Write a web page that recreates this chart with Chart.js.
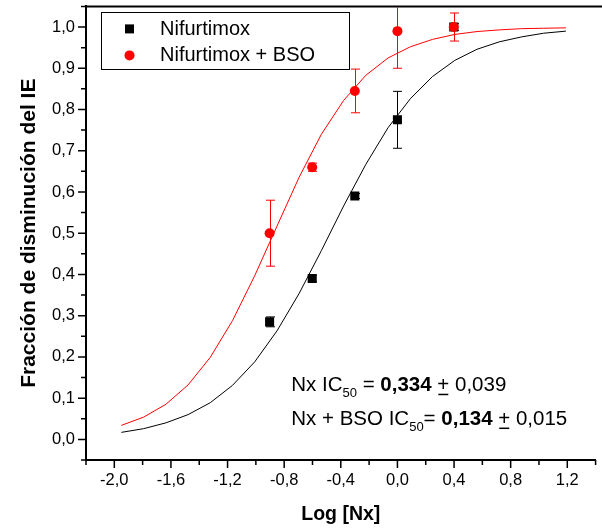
<!DOCTYPE html>
<html>
<head>
<meta charset="utf-8">
<script src="https://cdn.jsdelivr.net/npm/chart.js@4.4.1/dist/chart.umd.min.js"></script>
<style>
  html, body { margin: 0; padding: 0; background: #fff; }
  #wrap { width: 602px; height: 531px; }
</style>
</head>
<body>
<div id="wrap"><canvas id="c" width="602" height="531"></canvas></div>
<script>
// ---- data ----
const logConc = [-0.903, -0.602, -0.301, 0.0, 0.398];
const nifurtimox = [0.285, 0.39, 0.59, 0.775, 1.0];
const nifurtimoxErr = [0.012, 0.008, 0.006, 0.069, 0.008];
const nifurtimoxBSO = [0.50, 0.66, 0.845, 0.99, 1.0];
const nifurtimoxBSOErr = [0.08, 0.01, 0.053, 0.09, 0.034];

// fitted curves
const fitX = [-1.950, -1.793, -1.636, -1.479, -1.322, -1.165, -1.008, -0.851, -0.694, -0.537, -0.380,
              -0.223, -0.066, 0.091, 0.248, 0.405, 0.562, 0.719, 0.876, 1.033, 1.190];
const fitNifurtimox = [0.017, 0.026, 0.040, 0.060, 0.089, 0.131, 0.188, 0.263, 0.354, 0.458, 0.566,
                       0.667, 0.756, 0.826, 0.880, 0.919, 0.946, 0.964, 0.976, 0.985, 0.990];
const fitNifurtimoxBSO = [0.034, 0.054, 0.085, 0.132, 0.199, 0.288, 0.397, 0.517, 0.636, 0.740, 0.822,
                          0.883, 0.925, 0.952, 0.970, 0.982, 0.989, 0.993, 0.996, 0.997, 0.998];

const xTicks = [-2.0, -1.6, -1.2, -0.8, -0.4, 0.0, 0.4, 0.8, 1.2];
const xMinorTicks = [-2.2, -1.8, -1.4, -1.0, -0.6, -0.2, 0.2, 0.6, 1.0, 1.4];
const yTicks = [0.0, 0.1, 0.2, 0.3, 0.4, 0.5, 0.6, 0.7, 0.8, 0.9, 1.0];
const yMinorTicks = [-0.05, 0.05, 0.15, 0.25, 0.35, 0.45, 0.55, 0.65, 0.75, 0.85, 0.95, 1.05];

const seriesLabels = ['Nifurtimox', 'Nifurtimox + BSO'];
const FONT = "'Liberation Sans', Arial, Helvetica, sans-serif";

const pts = (xs, ys) => xs.map((x, i) => ({ x: x, y: ys[i] }));
const fmt = v => Number(v).toFixed(1).replace('.', ',');

const decor = {
  id: 'decor',
  beforeDatasetsDraw(chart) {
    const { ctx, chartArea: ca } = chart;
    const xs = chart.scales.x, ys = chart.scales.y;
    ctx.save();
    ctx.beginPath();
    ctx.rect(ca.left, ca.top + 1, ca.right - ca.left, ca.bottom - ca.top - 1);
    ctx.clip();
    const groups = [
      { v: nifurtimox, e: nifurtimoxErr, c: '#000000' },
      { v: nifurtimoxBSO, e: nifurtimoxBSOErr, c: '#ff0000' }
    ];
    groups.forEach(g => {
      ctx.strokeStyle = g.c;
      ctx.lineWidth = 1;
      logConc.forEach((x, i) => {
        const px = Math.round(xs.getPixelForValue(x)) + 0.5;
        const y1 = ys.getPixelForValue(g.v[i] + g.e[i]);
        const y2 = ys.getPixelForValue(g.v[i] - g.e[i]);
        ctx.beginPath();
        ctx.moveTo(px, y1); ctx.lineTo(px, y2);
        ctx.moveTo(px - 4.5, y1); ctx.lineTo(px + 4.5, y1);
        ctx.moveTo(px - 4.5, y2); ctx.lineTo(px + 4.5, y2);
        ctx.stroke();
      });
    });
    ctx.restore();
  },
  afterDraw(chart) {
    const { ctx, chartArea: ca } = chart;
    const xs = chart.scales.x, ys = chart.scales.y;
    ctx.save();
    // top frame line
    ctx.strokeStyle = '#000';
    ctx.lineWidth = 2;
    ctx.beginPath();
    ctx.moveTo(ca.left - 1, ca.top);
    ctx.lineTo(chart.width, ca.top);
    ctx.stroke();
    // ticks
    ctx.lineWidth = 1.5;
    ctx.beginPath();
    xTicks.forEach(v => { const p = xs.getPixelForValue(v); ctx.moveTo(p, ca.bottom); ctx.lineTo(p, ca.bottom + 8); });
    xMinorTicks.forEach(v => { const p = xs.getPixelForValue(v); ctx.moveTo(p, ca.bottom); ctx.lineTo(p, ca.bottom + 5); });
    yTicks.forEach(v => { const p = ys.getPixelForValue(v); ctx.moveTo(ca.left, p); ctx.lineTo(ca.left - 8, p); });
    yMinorTicks.forEach(v => { const p = ys.getPixelForValue(v); ctx.moveTo(ca.left, p); ctx.lineTo(ca.left - 5, p); });
    ctx.stroke();

    // legend box
    const lx = ca.left + 15, ly = ca.top + 6, lw = 248, lh = 57;
    ctx.lineWidth = 1;
    ctx.strokeStyle = '#000';
    ctx.strokeRect(Math.round(lx) + 0.5, Math.round(ly) + 0.5, lw, lh);
    ctx.fillStyle = '#000';
    ctx.fillRect(lx + 24, ly + 12, 9, 9);
    ctx.fillStyle = '#ff0000';
    ctx.beginPath();
    ctx.arc(lx + 28.5, ly + 43, 5, 0, Math.PI * 2);
    ctx.fill();
    ctx.fillStyle = '#000';
    ctx.font = '20px ' + FONT;
    ctx.textBaseline = 'middle';
    ctx.textAlign = 'left';
    ctx.fillText(seriesLabels[0], lx + 59, ly + 17);
    ctx.fillText(seriesLabels[1], lx + 59, ly + 43);

    // annotation
    const ax = xs.getPixelForValue(-0.75);
    const F = '20.5px ' + FONT;
    const runs1 = [
      { t: 'Nx IC', f: F },
      { t: '50', f: '13px ' + FONT, dy: 6 },
      { t: ' = ', f: F },
      { t: '0,334', f: 'bold ' + F },
      { t: ' ', f: F },
      { t: '+', f: F, u: true },
      { t: ' 0,039', f: F }
    ];
    const runs2 = [
      { t: 'Nx + BSO IC', f: F },
      { t: '50', f: '13px ' + FONT, dy: 6 },
      { t: '= ', f: F },
      { t: '0,134', f: 'bold ' + F },
      { t: ' ', f: F },
      { t: '+', f: F, u: true },
      { t: ' 0,015', f: F }
    ];
    const drawRuns = (runs, x, y) => {
      ctx.textBaseline = 'alphabetic';
      runs.forEach(r => {
        ctx.font = r.f;
        ctx.fillText(r.t, x, y + (r.dy || 0));
        const w = ctx.measureText(r.t).width;
        if (r.u) {
          ctx.fillRect(x + 1, y + 3, w - 2, 1.5);
        }
        x += w;
      });
    };
    drawRuns(runs1, ax, ys.getPixelForValue(0.118));
    drawRuns(runs2, ax, ys.getPixelForValue(0.036));
    ctx.restore();
  }
};

new Chart(document.getElementById('c'), {
  type: 'scatter',
  data: {
    datasets: [
      {
        label: seriesLabels[1],
        data: pts(logConc, nifurtimoxBSO),
        pointStyle: 'circle', pointRadius: 5, pointHoverRadius: 5,
        backgroundColor: '#ff0000', borderColor: '#ff0000', borderWidth: 0,
        order: 0
      },
      {
        label: seriesLabels[0],
        data: pts(logConc, nifurtimox),
        pointStyle: 'rect', pointRadius: 6.4, pointHoverRadius: 6.4,
        backgroundColor: '#000000', borderColor: '#000000', borderWidth: 0,
        order: 1
      },
      {
        label: 'fit ' + seriesLabels[1],
        data: pts(fitX, fitNifurtimoxBSO),
        showLine: true, pointRadius: 0, borderColor: '#ff0000', borderWidth: 1,
        order: 2
      },
      {
        label: 'fit ' + seriesLabels[0],
        data: pts(fitX, fitNifurtimox),
        showLine: true, pointRadius: 0, borderColor: '#000000', borderWidth: 1,
        order: 3
      }
    ]
  },
  options: {
    responsive: false,
    animation: false,
    events: [],
    layout: { padding: { top: 5, right: 3, left: 0, bottom: 0 } },
    plugins: { legend: { display: false }, tooltip: { enabled: false } },
    scales: {
      x: {
        type: 'linear', min: -2.2, max: 1.4,
        afterBuildTicks: s => { s.ticks = xTicks.map(v => ({ value: v })); },
        afterFit: s => { s.height = 71; s.paddingLeft = 0; s.paddingRight = 0; },
        grid: { display: true, drawOnChartArea: false, drawTicks: true, tickLength: 8, color: 'rgba(0,0,0,0)' },
        border: { display: true, color: '#000', width: 2 },
        ticks: { color: '#000', padding: 3, maxRotation: 0, autoSkip: false,
                 font: { family: FONT, size: 16.5 }, callback: v => fmt(v) },
        title: { display: true, text: 'Log [Nx]', color: '#000',
                 font: { family: FONT, size: 19.5, weight: 'bold' }, padding: { top: 0, bottom: 5 } }
      },
      y: {
        type: 'linear', min: -0.05, max: 1.05,
        afterBuildTicks: s => { s.ticks = yTicks.map(v => ({ value: v })); },
        afterFit: s => { s.width = 86; s.paddingTop = 0; s.paddingBottom = 0; },
        grid: { display: true, drawOnChartArea: false, drawTicks: true, tickLength: 8, color: 'rgba(0,0,0,0)' },
        border: { display: true, color: '#000', width: 2 },
        ticks: { color: '#000', padding: 3, autoSkip: false,
                 font: { family: FONT, size: 16.5 }, callback: v => fmt(v) },
        title: { display: true, text: 'Fracción de disminución del IE', color: '#000',
                 font: { family: FONT, size: 21, weight: 'bold' }, padding: { top: 17, bottom: 0 } }
      }
    }
  },
  plugins: [decor]
});
</script>
</body>
</html>
